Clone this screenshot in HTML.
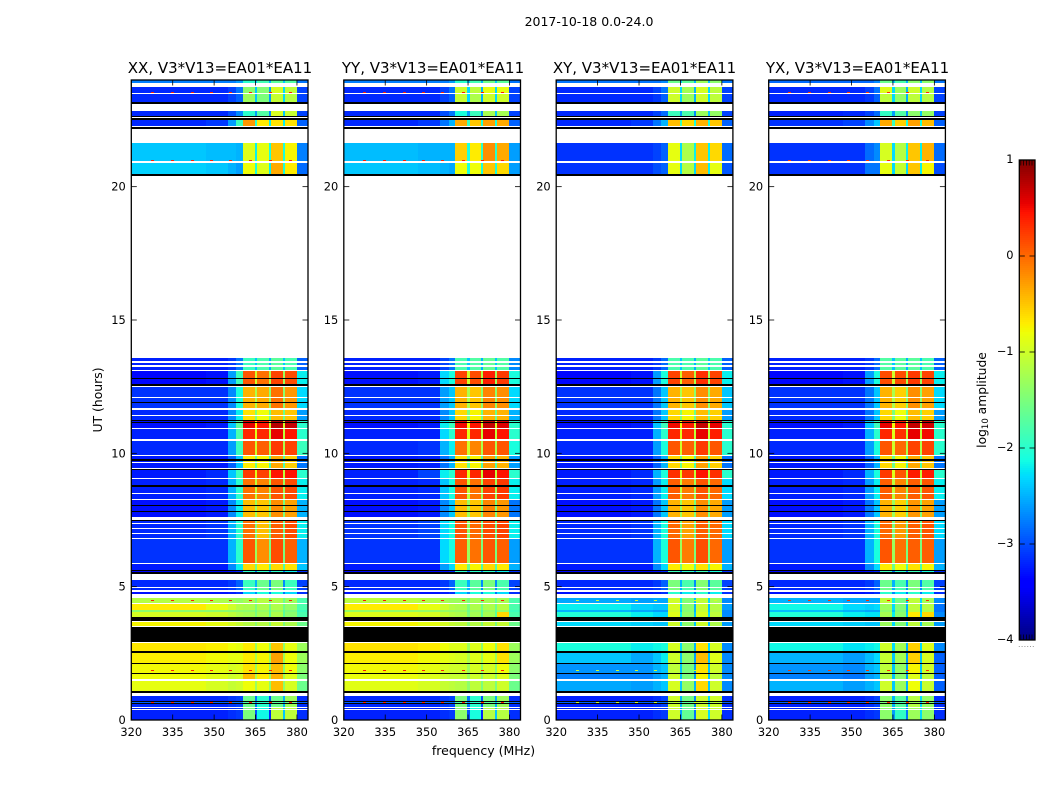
<!DOCTYPE html>
<html lang="en">
<head>
<meta charset="utf-8">
<title>2017-10-18 0.0-24.0</title>
<style>
html,body{margin:0;padding:0;background:#fff;}
svg{display:block;}
text{font-family:"DejaVu Sans","Liberation Sans",sans-serif;fill:#000;}
</style>
</head>
<body>
<svg id="fig" xmlns="http://www.w3.org/2000/svg" width="1050" height="800" viewBox="0 0 1050 800">
  <text x="589" y="26" font-size="12.5" text-anchor="middle">2017-10-18 0.0-24.0</text>
  <g id="panel-xx"></g>
  <g id="panel-yy"></g>
  <g id="panel-xy"></g>
  <g id="panel-yx"></g>
  <text x="220" y="73" font-size="15" text-anchor="middle">XX, V3*V13=EA01*EA11</text>
  <text x="433" y="73" font-size="15" text-anchor="middle">YY, V3*V13=EA01*EA11</text>
  <text x="644.5" y="73" font-size="15" text-anchor="middle">XY, V3*V13=EA01*EA11</text>
  <text x="857.5" y="73" font-size="15" text-anchor="middle">YX, V3*V13=EA01*EA11</text>
  <text transform="translate(102,400) rotate(-90)" font-size="12.4" text-anchor="middle">UT (hours)</text>
  <text x="483.5" y="755" font-size="12.5" text-anchor="middle">frequency (MHz)</text>
  <g id="colorbar"></g>
  <text transform="translate(986,400) rotate(-90)" font-size="12.3" text-anchor="middle">log<tspan font-size="8.5" dy="2">10</tspan><tspan dy="-2"> amplitude</tspan></text>
</svg>
<script>
/* axis values */
const xTicks = [320, 335, 350, 365, 380];
const yTicks = [0, 5, 10, 15, 20];
const cbTicks = [-4, -3, -2, -1, 0, 1];
/* frequency channel edges (MHz) */
const freqEdges = [320, 347, 355, 358, 360.4, 364.8, 365.7, 369.8, 370.5, 374.9, 375.6, 380, 384];
/* time row edges (hours), top to bottom */
const rowEdges = [24,23.87,23.72,23.5,23.46,23.19,23.11,22.84,22.65,22.61,22.56,22.5,22.28,22.22,22.16,21.65,20.97,20.9,20.48,20.41,
13.56,13.47,13.4,13.32,13.25,13.13,13.07,
12.81,12.77,12.59,12.54,12.5,
12.12,12.09,11.93,11.89,11.7,11.63,
11.44,11.41,11.25,11.21,
11.16,11.13,10.96,10.92,
10.53,10.47,9.94,9.9,
9.78,9.72,9.68,9.64,9.46,9.42,9.38,
9.08,9.04,8.81,8.75,8.52,8.49,8.29,8.25,
8.05,8.01,7.84,7.8,7.6,7.5,7.45,
7.37,7.34,7.19,7.15,7,6.96,6.81,6.78,
5.89,5.85,5.63,5.59,5.55,5.48,5.25,
5,4.96,4.88,4.79,4.71,4.58,
4.4,4.35,4.13,4.05,3.85,3.72,3.69,3.54,3.48,2.94,2.88,
2.6,2.52,2.13,2.09,1.77,1.74,1.54,1.46,1.08,1.02,0.91,
0.71,0.68,0.64,0.59,0.5,0.46,0.42,0.39,0];
/* which level band each time row belongs to; -1 = no data (white), -2 = zero amplitude (black) */
const rowBand = [0,-1,1,-1,2,-2,-1,3,-2,-1,-2,4,-1,-2,-1,5,-1,6,-2,-1,
7,-1,7,-1,7,-1,
8,-2,8,-2,-1,
9,-1,9,-2,9,-1,
10,-1,10,-2,
11,-2,11,-1,
12,-1,13,-1,
14,-2,14,-1,14,-1,-2,
15,-1,16,-2,16,-1,16,-1,
17,-2,17,-2,17,-1,-2,
18,-1,18,-1,18,-1,18,-1,
19,-1,20,-2,21,-2,-1,
22,-1,22,-1,23,-1,
24,-1,25,26,27,-2,-1,28,-1,-2,-1,
29,-2,30,-2,31,-2,32,-1,33,-2,-1,
34,-2,35,-2,34,-1,36,-1,36];
/* log10 amplitude per band (rows) and frequency channel (columns) */
const xxLevels = [
[-2.75,-2.75,-2.75,-2.6,-2,-2.4,-1.85,-2.5,-1.7,-2.4,-1.75,-2.8],
[-3.18,-3.18,-3.05,-2.8,-1.4,-2.4,-1.45,-2.6,-0.95,-2.3,-1.1,-3.05],
[-3.18,-3.18,-3.05,-2.9,-1.3,-2.4,-1.5,-2.6,-1.05,-2.3,-1.15,-3.05],
[-3.18,-3.18,-3,-2.7,-2,-2.6,-1.75,-2.7,-0.95,-2.4,-1.05,-3.05],
[-3.18,-3.1,-2.6,-1.9,-0.25,-2,-0.7,-2.2,-0.65,-2.2,-0.65,-2.9],
[-2.4,-2.45,-2.45,-2.5,-0.9,-2.2,-0.85,-2.1,-0.5,-2.1,-0.75,-2.75],
[-2.35,-2.4,-2.5,-2.6,-0.8,-2.1,-0.9,-2.2,-0.35,-2.1,-0.7,-2.85],
[-3.22,-3.22,-3.1,-2.8,-1.9,-2.4,-1.8,-2.5,-1.7,-2.4,-1.8,-2.9],
[-3.35,-3.3,-2.6,-1.9,0.1,-1,-0.05,-1.2,0.2,-1.3,0.15,-2.2],
[-3.13,-3.13,-2.7,-2.1,-0.4,-1.2,-0.35,-1.4,-0.05,-1.4,-0.25,-2.3],
[-3.18,-3.18,-2.7,-2.2,-0.65,-1.5,-0.8,-1.6,-0.45,-1.6,-0.5,-2.6],
[-3.3,-3.25,-2.4,-1.7,0.55,-0.7,0.45,-1,0.75,-1,0.7,-2],
[-3.22,-3.22,-2.5,-1.8,0.35,-0.9,0.35,-1.1,0.55,-1.1,0.45,-2],
[-3.18,-3.18,-2.6,-1.9,0.1,-1,0.05,-1.2,0.25,-1.2,0.2,-1.9],
[-3.25,-3.25,-2.9,-2.4,-0.7,-1.6,-0.75,-1.8,-0.35,-1.8,-0.55,-2.8],
[-3.25,-3.18,-2.4,-1.9,0.25,-0.9,0.2,-1.1,0.45,-1.1,0.45,-2],
[-3.22,-3.18,-2.5,-2,-0.05,-1.1,-0.15,-1.3,0.1,-1.3,0.15,-2.2],
[-3.3,-3.25,-2.7,-2.2,-0.45,-1.3,-0.5,-1.5,-0.2,-1.5,-0.3,-2.5],
[-3.18,-3.13,-2.5,-2,-0.05,-1.5,-0.45,-1.6,0.05,-1.6,0.15,-2.2],
[-3.13,-3.13,-2.5,-2,0.1,-1.3,-0.2,-1.5,0.15,-1.5,0.05,-2.5],
[-3.25,-3.25,-2.7,-2.2,-0.6,-1.6,-0.7,-1.8,-0.6,-1.8,-0.65,-2.4],
[-3.35,-3.35,-3.3,-3.2,-2,-2.8,-2,-2.8,-2,-2.8,-2.2,-3.15],
[-3.18,-3.18,-3.1,-2.9,-1.9,-2.5,-1.6,-2.7,-1.5,-2.7,-1.9,-3.05],
[-3.3,-3.3,-3.25,-3.15,-2.3,-2.7,-2.1,-2.8,-2.1,-2.8,-2.3,-3.15],
[-1.15,-1.2,-1.3,-1.35,-1.25,-1.5,-1.15,-1.6,-1.2,-1.6,-1.3,-1.8],
[-0.7,-0.85,-1,-1.15,-1.2,-1.5,-1.2,-1.6,-1.2,-1.6,-1.35,-1.8],
[-1.4,-1.4,-1.4,-1.4,-1.4,-1.6,-1.35,-1.7,-1.35,-1.7,-1.5,-1.9],
[-0.95,-1,-1.1,-1.2,-1.25,-1.5,-1.25,-1.7,-1.2,-1.7,-1.4,-1.8],
[-0.75,-0.85,-0.95,-1.05,-1.15,-1.4,-1.15,-1.5,-1.05,-1.5,-1.2,-1.6],
[-0.68,-0.72,-0.8,-0.85,-0.7,-1.3,-0.8,-1.4,-0.5,-1.4,-0.85,-1.3],
[-0.72,-0.78,-0.85,-0.85,-0.7,-1.2,-0.75,-1.3,-0.3,-1.3,-0.8,-1.3],
[-0.78,-0.85,-0.95,-0.9,-0.65,-1.3,-0.75,-1.4,-0.45,-1.4,-0.8,-1.4],
[-0.8,-0.88,-1,-0.95,-0.45,-1.2,-0.7,-1.3,-0.4,-1.3,-0.9,-1.5],
[-0.85,-0.95,-1.05,-1,-0.8,-1.3,-0.85,-1.4,-0.45,-1.4,-0.95,-1.6],
[-3.18,-3.18,-3.1,-3.05,-1.6,-2.8,-2,-3,-1.6,-2.5,-1.3,-3.15],
[-2.9,-2.9,-2.8,-2.8,-1.8,-2.6,-2,-2.8,-1.7,-2.4,-1.6,-2.9],
[-3.22,-3.22,-3.15,-3.1,-1.5,-3,-2.15,-3.2,-1.1,-2.4,-1.1,-3.15]
];
const yyLevels = [
[-2.75,-2.75,-2.75,-2.6,-2,-2.4,-1.85,-2.5,-1.6,-2.4,-1.7,-2.8],
[-3.18,-3.18,-3.05,-2.8,-1,-2.3,-1.1,-2.5,-0.85,-2.3,-0.85,-3.05],
[-3.18,-3.18,-3.05,-2.9,-1.05,-2.3,-1.2,-2.5,-1,-2.3,-1,-3.05],
[-3.18,-3.18,-3,-2.8,-2.1,-2.6,-1.9,-2.7,-1.25,-2.4,-1.25,-3.05],
[-3.18,-3.1,-2.8,-2.5,-0.35,-1.9,-0.5,-2.1,-0.3,-2.1,-0.35,-2.9],
[-2.45,-2.5,-2.5,-2.5,-0.55,-2.1,-0.7,-2,-0.2,-2,-0.35,-2.6],
[-2.4,-2.45,-2.5,-2.55,-0.8,-2.1,-0.8,-2.1,-0.5,-2.1,-0.6,-2.6],
[-3.22,-3.22,-3.05,-2.8,-1.8,-2.4,-1.75,-2.5,-1.65,-2.4,-1.75,-2.7],
[-3.3,-3.25,-2.3,-2.1,0.2,-1,0.15,-1.2,0.4,-1.3,0.25,-2.1],
[-3.13,-3.13,-2.6,-2.4,-0.4,-1.2,-0.5,-1.4,-0.15,-1.4,-0.2,-2.3],
[-3.18,-3.18,-2.7,-2.4,-0.6,-1.5,-0.75,-1.6,-0.4,-1.6,-0.4,-2.5],
[-3.3,-3.25,-2.2,-1.9,0.5,-0.8,0.45,-1,0.7,-1,0.6,-2],
[-3.22,-3.22,-2.3,-2,0.35,-0.9,0.35,-1.1,0.55,-1.1,0.45,-2],
[-3.18,-3.13,-2.5,-2.2,-0.05,-1,-0.15,-1.2,0.1,-1.2,0.1,-2.1],
[-3.25,-3.22,-2.8,-2.5,-0.65,-1.6,-0.75,-1.8,-0.3,-1.8,-0.4,-2.6],
[-3.22,-3.05,-2.2,-2,0.35,-0.9,0.35,-1.1,0.55,-1.1,0.45,-2],
[-3.22,-3.18,-2.4,-2.1,0.1,-1.1,-0.05,-1.3,0.2,-1.3,0.25,-2.2],
[-3.3,-3.25,-2.7,-2.4,-0.45,-1.3,-0.5,-1.5,-0.15,-1.5,-0.25,-2.8],
[-3.13,-3.05,-2.3,-2.1,0.1,-1.4,0,-1.6,0.15,-1.6,0.2,-2.2],
[-3.13,-3.13,-2.3,-2.1,0.05,-1.3,-0.05,-1.5,0.1,-1.5,0.05,-2.6],
[-3.25,-3.25,-2.6,-2.3,-0.7,-1.6,-0.75,-1.8,-0.6,-1.8,-0.7,-2.5],
[-3.35,-3.35,-3.3,-3.2,-2,-2.8,-2,-2.8,-2,-2.8,-2.2,-3.15],
[-3.18,-3.18,-3.1,-2.9,-1.9,-2.5,-1.7,-2.7,-1.5,-2.7,-1.8,-3.05],
[-3.3,-3.3,-3.25,-3.15,-2.3,-2.7,-2.1,-2.8,-2.1,-2.8,-2.3,-3.15],
[-1.1,-1.15,-1.25,-1.3,-1.3,-1.5,-1.25,-1.6,-1.25,-1.6,-1.25,-1.8],
[-0.7,-0.85,-1,-1.15,-1.2,-1.5,-1.2,-1.6,-1.2,-1.6,-1.15,-1.8],
[-1.35,-1.35,-1.35,-1.35,-1.35,-1.6,-1.35,-1.7,-1.35,-1.7,-1.35,-1.9],
[-0.9,-0.95,-1.05,-1.15,-1.2,-1.5,-1.25,-1.7,-1.25,-1.7,-0.6,-1.8],
[-0.75,-0.85,-0.95,-1.05,-1.1,-1.4,-1.15,-1.5,-1.05,-1.5,-1.05,-1.6],
[-0.65,-0.7,-0.8,-0.9,-0.9,-1.3,-0.9,-1.4,-0.8,-1.4,-0.65,-1.3],
[-0.72,-0.78,-0.85,-0.9,-0.95,-1.2,-0.9,-1.3,-0.85,-1.3,-0.65,-1.3],
[-0.78,-0.85,-0.95,-1,-1,-1.3,-0.95,-1.4,-0.95,-1.4,-0.8,-1.4],
[-0.82,-0.9,-1,-1.05,-1.05,-1.3,-1,-1.4,-1,-1.4,-0.9,-1.5],
[-0.88,-0.95,-1.05,-1.1,-1.15,-1.4,-1.1,-1.5,-1.1,-1.5,-1,-1.6],
[-3.18,-3.18,-3.1,-3.05,-1.5,-2.8,-2,-3,-1.5,-2.5,-1.3,-3.15],
[-2.9,-2.9,-2.8,-2.8,-1.8,-2.6,-2,-2.8,-1.7,-2.4,-1.6,-2.9],
[-3.22,-3.22,-3.15,-3.1,-1.4,-3,-2.1,-3.2,-1.15,-2.4,-1.15,-3.15]
];
const xyLevels = [
[-2.8,-2.8,-2.8,-2.7,-1.6,-2.4,-1.7,-2.5,-1.3,-2.4,-1.4,-2.8],
[-3.18,-3.18,-3.05,-2.8,-1,-2.3,-1.25,-2.5,-0.95,-2.3,-1.1,-3.05],
[-3.18,-3.18,-3.1,-2.9,-1,-2.3,-1.3,-2.5,-1,-2.3,-1.1,-3.05],
[-3.18,-3.18,-3.05,-2.85,-1.9,-2.6,-1.8,-2.7,-1.3,-2.4,-1.35,-3.05],
[-3.18,-3.1,-2.8,-2.5,-0.45,-1.9,-0.6,-2.1,-0.4,-2.1,-0.5,-2.9],
[-3.13,-3.13,-3.05,-2.9,-0.85,-2.3,-1.2,-2.2,-0.5,-2.2,-0.6,-2.85],
[-3.13,-3.13,-3,-2.9,-0.85,-2.3,-1.15,-2.3,-0.45,-2.2,-0.85,-2.95],
[-3.22,-3.22,-3.1,-2.85,-1.8,-2.4,-1.8,-2.5,-1.7,-2.4,-1.8,-2.9],
[-3.35,-3.3,-2.6,-2.1,0.2,-1,0.05,-1.2,0.3,-1.3,0.2,-2.2],
[-3.13,-3.13,-2.8,-2.4,-0.4,-1.2,-0.5,-1.4,-0.2,-1.4,-0.35,-2.4],
[-3.18,-3.18,-2.8,-2.4,-0.6,-1.5,-0.75,-1.6,-0.45,-1.6,-0.55,-2.6],
[-3.3,-3.25,-2.4,-1.9,0.5,-0.8,0.4,-1,0.7,-1,0.55,-2],
[-3.22,-3.22,-2.5,-2,0.35,-0.9,0.35,-1.1,0.55,-1.1,0.4,-2],
[-3.18,-3.18,-2.6,-2.1,0.1,-1,0.05,-1.2,0.25,-1.2,0.1,-2],
[-3.25,-3.25,-2.9,-2.5,-0.6,-1.6,-0.75,-1.8,-0.3,-1.8,-0.55,-2.8],
[-3.25,-3.18,-2.5,-2.1,0.3,-0.9,0.25,-1.1,0.45,-1.1,0.3,-2],
[-3.22,-3.18,-2.6,-2.2,0.05,-1.1,-0.1,-1.3,0.1,-1.3,0,-2.3],
[-3.3,-3.25,-2.8,-2.4,-0.4,-1.3,-0.5,-1.5,-0.2,-1.5,-0.35,-2.6],
[-3.18,-3.13,-2.5,-2.1,0,-1.5,-0.3,-1.6,0.05,-1.6,0,-2.3],
[-3.13,-3.13,-2.5,-2.1,0.1,-1.3,-0.1,-1.5,0.15,-1.5,0,-2.6],
[-3.25,-3.25,-2.7,-2.3,-0.7,-1.6,-0.8,-1.8,-0.65,-1.8,-0.75,-2.5],
[-3.35,-3.35,-3.3,-3.2,-1.9,-2.8,-2,-2.8,-1.9,-2.8,-2.1,-3.15],
[-3.18,-3.18,-3.1,-2.9,-1.5,-2.5,-1.8,-2.7,-1.45,-2.7,-1.7,-3.05],
[-3.3,-3.3,-3.25,-3.15,-2,-2.7,-2.2,-2.8,-2,-2.8,-2.2,-3.15],
[-2.55,-2.6,-2.55,-2.55,-1,-2.2,-1.45,-2.4,-1.1,-2.3,-1.25,-2.7],
[-2.2,-2.35,-2.4,-2.4,-0.95,-2.3,-1.4,-2.5,-1.05,-2.4,-1.15,-2.6],
[-2.5,-2.55,-2.6,-2.6,-1,-2.4,-1.45,-2.5,-1.05,-2.4,-1.2,-2.7],
[-2.05,-2.2,-2.3,-2.3,-0.9,-2.2,-1.35,-2.4,-0.95,-2.3,-1.1,-2.7],
[-2.3,-2.35,-2.4,-2.4,-1,-2.3,-1.4,-2.4,-1,-2.4,-1.2,-2.6],
[-2.1,-2.2,-2.15,-2.1,-0.95,-2.3,-1.4,-2.5,-0.65,-2.3,-0.95,-2.7],
[-2.4,-2.55,-2.4,-2.2,-1,-2.4,-1.4,-2.6,-0.45,-2.4,-0.9,-2.7],
[-2.65,-2.65,-2.5,-2.4,-1.1,-2.4,-1.5,-2.6,-0.65,-2.4,-1,-2.7],
[-2.75,-2.75,-2.6,-2.5,-1,-2.4,-1.5,-2.6,-0.75,-2.4,-1.1,-2.7],
[-2.55,-2.6,-2.5,-2.4,-0.95,-2.4,-1.35,-2.5,-0.6,-2.4,-1,-2.7],
[-3.22,-3.22,-3.15,-3.05,-1,-2.5,-1.55,-2.7,-1,-2.3,-1,-3.15],
[-2.9,-2.9,-2.8,-2.8,-1.2,-2.6,-1.7,-2.8,-1.1,-2.4,-1.2,-2.9],
[-3.22,-3.22,-3.15,-3.1,-1,-2.6,-1.65,-2.8,-0.95,-2.3,-1,-3.15]
];
const yxLevels = [
[-2.85,-2.85,-2.85,-2.7,-1.6,-2.4,-1.8,-2.5,-1.4,-2.4,-1.4,-2.8],
[-3.18,-3.18,-3.05,-2.8,-0.9,-2.3,-1.3,-2.5,-1,-2.3,-1.15,-3.05],
[-3.18,-3.18,-3.1,-2.9,-1.1,-2.3,-1.35,-2.5,-1.1,-2.3,-1.15,-3.05],
[-3.22,-3.18,-3.05,-2.85,-1.95,-2.6,-1.75,-2.7,-1.4,-2.4,-1.35,-3.05],
[-3.13,-3.05,-2.7,-2.4,-0.35,-1.9,-0.55,-2.1,-0.3,-2.1,-0.45,-2.9],
[-3.13,-3.13,-2.85,-2.7,-0.95,-2.3,-1.15,-2.2,-0.5,-2.2,-0.4,-2.85],
[-3.13,-3.13,-2.8,-2.8,-0.85,-2.3,-1.05,-2.3,-0.5,-2.2,-0.75,-3],
[-3.22,-3.22,-3.1,-2.85,-1.75,-2.4,-1.7,-2.5,-1.7,-2.4,-1.8,-2.9],
[-3.35,-3.3,-2.6,-2.1,0.15,-1,0.15,-1.2,0.25,-1.3,0.2,-2.2],
[-3.13,-3.13,-2.8,-2.4,-0.4,-1.2,-0.55,-1.4,-0.2,-1.4,-0.3,-2.3],
[-3.18,-3.18,-2.8,-2.4,-0.6,-1.5,-0.8,-1.6,-0.45,-1.6,-0.55,-2.6],
[-3.3,-3.25,-2.4,-1.9,0.55,-0.8,0.45,-1,0.7,-1,0.65,-2],
[-3.22,-3.22,-2.5,-2,0.35,-0.9,0.3,-1.1,0.55,-1.1,0.5,-2],
[-3.18,-3.18,-2.6,-2.1,0.1,-1,0,-1.2,0.2,-1.2,0.2,-2],
[-3.25,-3.25,-2.9,-2.5,-0.6,-1.6,-0.75,-1.8,-0.35,-1.8,-0.5,-2.8],
[-3.25,-3.18,-2.5,-2.1,0.25,-0.9,0.1,-1.1,0.4,-1.1,0.4,-2],
[-3.22,-3.18,-2.6,-2.2,0.05,-1.1,-0.15,-1.3,0.05,-1.3,0.1,-2.2],
[-3.3,-3.25,-2.8,-2.4,-0.4,-1.3,-0.55,-1.5,-0.25,-1.5,-0.3,-2.6],
[-3.18,-3.13,-2.5,-2.1,0,-1.5,-0.25,-1.6,0.05,-1.6,0.1,-2.3],
[-3.13,-3.13,-2.5,-2.1,0.1,-1.3,-0.05,-1.5,0.05,-1.5,0.05,-2.6],
[-3.25,-3.25,-2.7,-2.3,-0.7,-1.6,-0.8,-1.8,-0.65,-1.8,-0.75,-2.5],
[-3.35,-3.35,-3.3,-3.2,-1.9,-2.8,-2,-2.8,-1.9,-2.8,-2.1,-3.15],
[-3.18,-3.18,-3.1,-2.9,-1.6,-2.5,-1.8,-2.7,-1.5,-2.7,-1.75,-3.05],
[-3.3,-3.3,-3.25,-3.15,-2,-2.7,-2.2,-2.8,-2,-2.8,-2.2,-3.15],
[-2.5,-2.55,-2.55,-2.55,-1.1,-2.2,-1.55,-2.4,-1.1,-2.3,-1.25,-2.7],
[-2.15,-2.3,-2.35,-2.3,-1.3,-2.3,-1.45,-2.5,-1.1,-2.4,-1.15,-2.8],
[-2.45,-2.5,-2.55,-2.55,-1.4,-2.4,-1.5,-2.5,-1.1,-2.4,-1.2,-2.8],
[-2.05,-2.2,-2.25,-2.25,-1.25,-2.2,-1.4,-2.4,-0.7,-2.3,-0.6,-2.7],
[-2.3,-2.35,-2.4,-2.4,-1.3,-2.3,-1.45,-2.4,-1.1,-2.4,-1.25,-2.6],
[-2.15,-2.25,-2.2,-2.15,-1,-2.3,-1.25,-2.5,-0.55,-2.3,-0.9,-2.7],
[-2.5,-2.6,-2.45,-2.3,-1.05,-2.4,-1.25,-2.6,-0.55,-2.4,-0.95,-2.9],
[-2.65,-2.7,-2.5,-2.4,-1.1,-2.4,-1.35,-2.6,-0.75,-2.4,-1,-2.9],
[-2.75,-2.8,-2.6,-2.5,-1.15,-2.4,-1.4,-2.6,-0.9,-2.4,-1.1,-2.9],
[-2.5,-2.6,-2.5,-2.4,-1,-2.4,-1.3,-2.5,-0.8,-2.4,-1.05,-2.9],
[-3.22,-3.22,-3.15,-3.05,-1.4,-2.5,-1.7,-2.7,-1.15,-2.3,-1.35,-3.15],
[-2.9,-2.9,-2.8,-2.8,-1.5,-2.6,-1.8,-2.8,-1.3,-2.4,-1.5,-2.9],
[-3.22,-3.22,-3.15,-3.1,-1.4,-2.6,-1.95,-2.8,-1.3,-2.3,-1.4,-3.15]
];
/* narrow interference spikes: channel frequencies, hours and level per panel */
const spotFreqs = [327.1, 334.3, 341.5, 348.5, 355.3, 362.7, 369.8, 377];
const xxSpotHours = [23.56, 21.0, 4.5, 1.87, 0.66];
const yySpotHours = [23.56, 21.0, 4.5, 1.87, 0.66];
const xySpotHours = [4.5, 1.87, 0.66];
const yxSpotHours = [23.56, 21.0, 4.5, 1.87, 0.66];
const spotLevels = [0.4, 0.4, -1.0, 0.3];

const panelLefts = [131.3, 343.8, 556.2, 768.7];
const panelW = 176.7, panelTop = 80, panelBottom = 720;
const SVGNS = 'http://www.w3.org/2000/svg';
const fMin = 320, fMax = 384, hMin = 0, hMax = 24, vMin = -4, vMax = 1;

function xScale(left, f) { return left + (f - fMin) / (fMax - fMin) * panelW; }
function yScale(h) { return panelBottom - (h - hMin) / (hMax - hMin) * (panelBottom - panelTop); }
function cbScale(v) { return 640 - (v - vMin) / (vMax - vMin) * 480; }

function seg(t, pts) {
  for (let i = 1; i < pts.length; i++) {
    if (t <= pts[i][0]) {
      const a = pts[i - 1], b = pts[i];
      return a[1] + (b[1] - a[1]) * (t - a[0]) / (b[0] - a[0]);
    }
  }
  return pts[pts.length - 1][1];
}
function jet(v) {
  const t = Math.max(0, Math.min(1, (v - vMin) / (vMax - vMin)));
  const r = seg(t, [[0,0],[0.35,0],[0.66,1],[0.89,1],[1,0.5]]);
  const g = seg(t, [[0,0],[0.125,0],[0.375,1],[0.64,1],[0.91,0],[1,0]]);
  const b = seg(t, [[0,0.5],[0.11,1],[0.34,1],[0.65,0],[1,0]]);
  return 'rgb(' + Math.round(r * 255) + ',' + Math.round(g * 255) + ',' + Math.round(b * 255) + ')';
}
function node(parent, tag, attrs) {
  const el = document.createElementNS(SVGNS, tag);
  for (const k in attrs) el.setAttribute(k, attrs[k]);
  parent.appendChild(el);
  return el;
}

function drawPanel(id, left, levels, spotHours, spotLevel) {
  const g = document.getElementById(id);
  const right = left + panelW;
  for (let r = 0; r < rowBand.length; r++) {
    const band = rowBand[r];
    if (band === -1) continue;
    const y0 = Math.round(yScale(rowEdges[r]));
    const y1 = Math.round(yScale(rowEdges[r + 1]));
    if (band === -2) {
      const blk = node(g, 'rect', {x: left, y: y0, width: panelW, height: Math.max(1, y1 - y0), fill: '#000', 'shape-rendering': 'crispEdges'});
      
      
      continue;
    }
    const row = levels[band];
    for (let c = 0; c < row.length; c++) {
      const x0 = Math.round(xScale(left, freqEdges[c]));
      const x1 = Math.round(xScale(left, freqEdges[c + 1]));
      const cell = node(g, 'rect', {x: x0, y: y0, width: x1 - x0, height: Math.max(1, y1 - y0), fill: jet(row[c]), 'shape-rendering': 'crispEdges'});
      
      
    }
  }
  spotHours.forEach(function (h) {
    spotFreqs.forEach(function (f) {
      const spot = node(g, 'rect', {x: Math.round(xScale(left, f)), y: Math.round(yScale(h)), width: 3, height: 1, fill: jet(spotLevel), 'shape-rendering': 'crispEdges'});
      
      
    });
  });
  const frame = node(g, 'rect', {x: left, y: panelTop, width: panelW, height: panelBottom - panelTop, fill: 'none', stroke: '#000', 'stroke-width': 1.3});
  
  
  xTicks.forEach(function (f) {
    const x = xScale(left, f);
    const t1 = node(g, 'line', {x1: x, x2: x, y1: panelBottom, y2: panelBottom - 5.5, stroke: '#000', 'stroke-width': 0.8});
    
    
    const t2 = node(g, 'line', {x1: x, x2: x, y1: panelTop, y2: panelTop + 5.5, stroke: '#000', 'stroke-width': 0.8});
    
    
    const lab = node(g, 'text', {x: x, y: panelBottom + 16, 'font-size': 11.4, 'text-anchor': 'middle'});
    
    
    lab.textContent = String(f);
  });
  yTicks.forEach(function (h) {
    const y = yScale(h);
    const t1 = node(g, 'line', {x1: left, x2: left + 5.5, y1: y, y2: y, stroke: '#000', 'stroke-width': 0.8});
    
    
    const t2 = node(g, 'line', {x1: right, x2: right - 5.5, y1: y, y2: y, stroke: '#000', 'stroke-width': 0.8});
    
    
    const lab = node(g, 'text', {x: left - 5.5, y: y + 4, 'font-size': 11.4, 'text-anchor': 'end'});
    
    
    lab.textContent = String(h);
  });
}

drawPanel('panel-xx', panelLefts[0], xxLevels, xxSpotHours, spotLevels[0]);
drawPanel('panel-yy', panelLefts[1], yyLevels, yySpotHours, spotLevels[1]);
drawPanel('panel-xy', panelLefts[2], xyLevels, xySpotHours, spotLevels[2]);
drawPanel('panel-yx', panelLefts[3], yxLevels, yxSpotHours, spotLevels[3]);

/* colour bar */
(function () {
  const g = document.getElementById('colorbar');
  const cbL = 1019.3, cbR = 1035;
  for (let py = 160; py < 640; py += 2) {
    const v = vMax - (py - 160 + 1) / 480 * (vMax - vMin);
    const s = node(g, 'rect', {x: cbL, y: py, width: cbR - cbL, height: 2, fill: jet(v), 'shape-rendering': 'crispEdges'});
    
    
  }
  const f = node(g, 'rect', {x: cbL, y: 160, width: cbR - cbL, height: 480, fill: 'none', stroke: '#000', 'stroke-width': 1.3});
  
  
  for (let x = cbL + 1.5; x < cbR; x += 2.8) {
    const tt = node(g, 'line', {x1: x, x2: x, y1: 160, y2: 165.5, stroke: '#000', 'stroke-width': 0.7});
    
    
    const bt = node(g, 'line', {x1: x, x2: x, y1: 640, y2: 634.5, stroke: '#000', 'stroke-width': 0.7});
    
    
    const dot = node(g, 'rect', {x: x - 2, y: 646, width: 1, height: 1, fill: '#999'});
    
    
  }
  cbTicks.forEach(function (v) {
    const y = cbScale(v);
    const a = node(g, 'line', {x1: cbL, x2: cbL + 5.5, y1: y, y2: y, stroke: '#000', 'stroke-width': 0.8});
    
    
    const b = node(g, 'line', {x1: cbR, x2: cbR - 5.5, y1: y, y2: y, stroke: '#000', 'stroke-width': 0.8});
    
    
    const lab = node(g, 'text', {x: 1013.5, y: y + 3, 'font-size': 11.4, 'text-anchor': 'end'});
    
    
    lab.textContent = v < 0 ? '\u2212' + Math.abs(v) : String(v);
  });
})();
</script>
</body>
</html>
